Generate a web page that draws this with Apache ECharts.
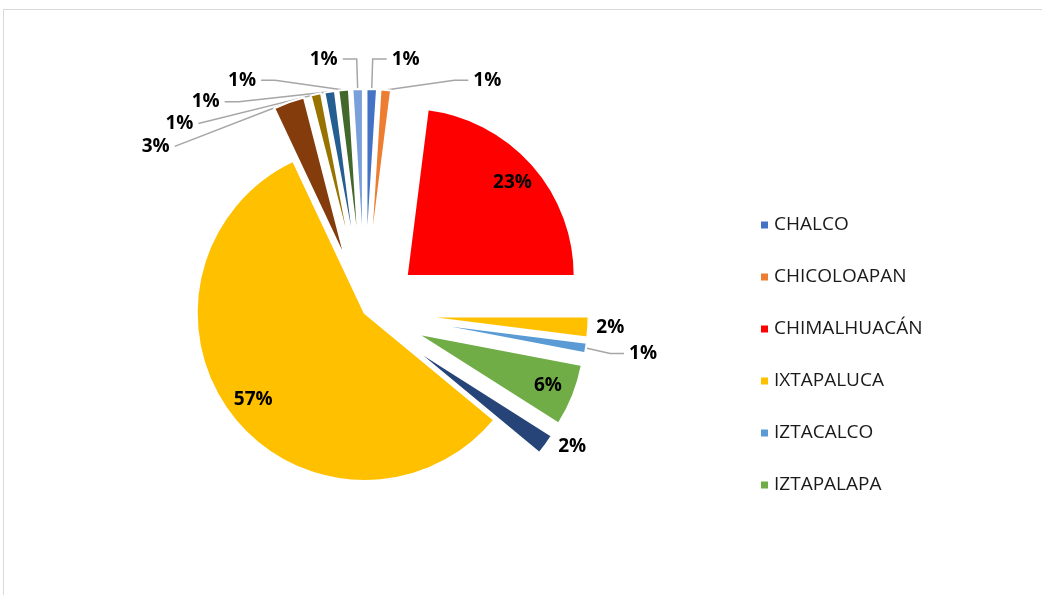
<!DOCTYPE html>
<html>
<head>
<meta charset="utf-8">
<script src="https://cdn.jsdelivr.net/npm/echarts@6/dist/echarts.min.js"></script>
<style>
  html, body { margin: 0; padding: 0; background: #fff; overflow: hidden; }
  .frame {
    position: absolute; left: 3px; top: 9px;
    width: 1200px; height: 800px;
    border: 1px solid #d9d9d9;
  }
  #chart { position: absolute; left: 0; top: 0; width: 1042px; height: 595px; }
</style>
</head>
<body>
<div class="frame"></div>
<div id="chart"></div>
<script>
  // municipios (la leyenda solo muestra los 6 primeros)
  var names = ['CHALCO', 'CHICOLOAPAN', 'CHIMALHUACÁN', 'IXTAPALUCA', 'IZTACALCO', 'IZTAPALAPA',
    'OTRO 7', 'OTRO 8', 'OTRO 9', 'OTRO 10', 'OTRO 11', 'OTRO 12', 'OTRO 13'];
  var values = [1, 1, 23, 2, 1, 6, 2, 57, 3, 1, 1, 1, 1];
  var legendNames = ['CHALCO', 'CHICOLOAPAN', 'CHIMALHUACÁN', 'IXTAPALUCA', 'IZTACALCO', 'IZTAPALAPA'];
  var colors = ['#4472C4', '#ED7D31', '#FF0000', '#FFC000', '#5B9BD5', '#70AD47',
    '#264478', '#FFC000', '#843C0C', '#997300', '#255E91', '#43682B', '#7A9FDA'];

  var insideLabel = ['CHIMALHUACÁN', 'IZTAPALAPA', 'OTRO 8'];
  var noLine = ['IXTAPALUCA', 'OTRO 7'];
  var notExploded = ['OTRO 8'];

  var center = ['35%', '52.6%'];
  var radius = 168;
  var labelFont = { fontFamily: 'Open Sans', fontWeight: 'bold', fontSize: 19, color: '#000' };

  function pct(p) { return Math.round(p.percent) + '%'; }

  var pieData = names.map(function (n, i) {
    var inside = insideLabel.indexOf(n) >= 0;
    var item = {
      name: n,
      value: values[i],
      selected: notExploded.indexOf(n) < 0,
      itemStyle: { color: colors[i] },
      label: { show: !inside },
      labelLine: { show: !inside }
    };
    if (noLine.indexOf(n) >= 0) {
      item.labelLine = { show: false, length: 4, length2: 4 };
    }
    return item;
  });

  // capa transparente solo para las etiquetas interiores
  var labelData = names.map(function (n, i) {
    var inside = insideLabel.indexOf(n) >= 0;
    return {
      name: n,
      value: values[i],
      selected: notExploded.indexOf(n) < 0,
      itemStyle: { color: 'rgba(0,0,0,0)', borderWidth: 0 },
      label: { show: inside }
    };
  });

  var myChart = echarts.init(document.getElementById('chart'));
  var option = {
    backgroundColor: 'transparent',
    animation: false,
    legend: {
      orient: 'vertical',
      left: 754,
      top: 208,
      data: legendNames,
      icon: 'rect',
      itemWidth: 9,
      itemHeight: 9,
      itemGap: 28,
      selectedMode: false,
      textStyle: { fontFamily: 'Open Sans', fontSize: 19, lineHeight: 24, color: '#1a1a1a', padding: [0, 0, 0, 0] }
    },
    series: [{
      name: 'pie',
      type: 'pie',
      center: center,
      radius: radius,
      startAngle: 90,
      selectedMode: 'multiple',
      selectedOffset: 56,
      silent: true,
      itemStyle: { borderColor: '#fff', borderWidth: 2 },
      label: Object.assign({ position: 'outside', formatter: pct }, labelFont),
      labelLine: { length: 30, length2: 14, lineStyle: { color: '#a6a6a6', width: 1.5 } },
      data: pieData
    }, {
      name: 'labels',
      type: 'pie',
      center: center,
      radius: [108, radius],
      startAngle: 90,
      selectedMode: 'multiple',
      selectedOffset: 56,
      silent: true,
      label: Object.assign({ position: 'inside', formatter: pct }, labelFont),
      labelLine: { show: false },
      data: labelData
    }]
  };
  myChart.setOption(option);
</script>
</body>
</html>
